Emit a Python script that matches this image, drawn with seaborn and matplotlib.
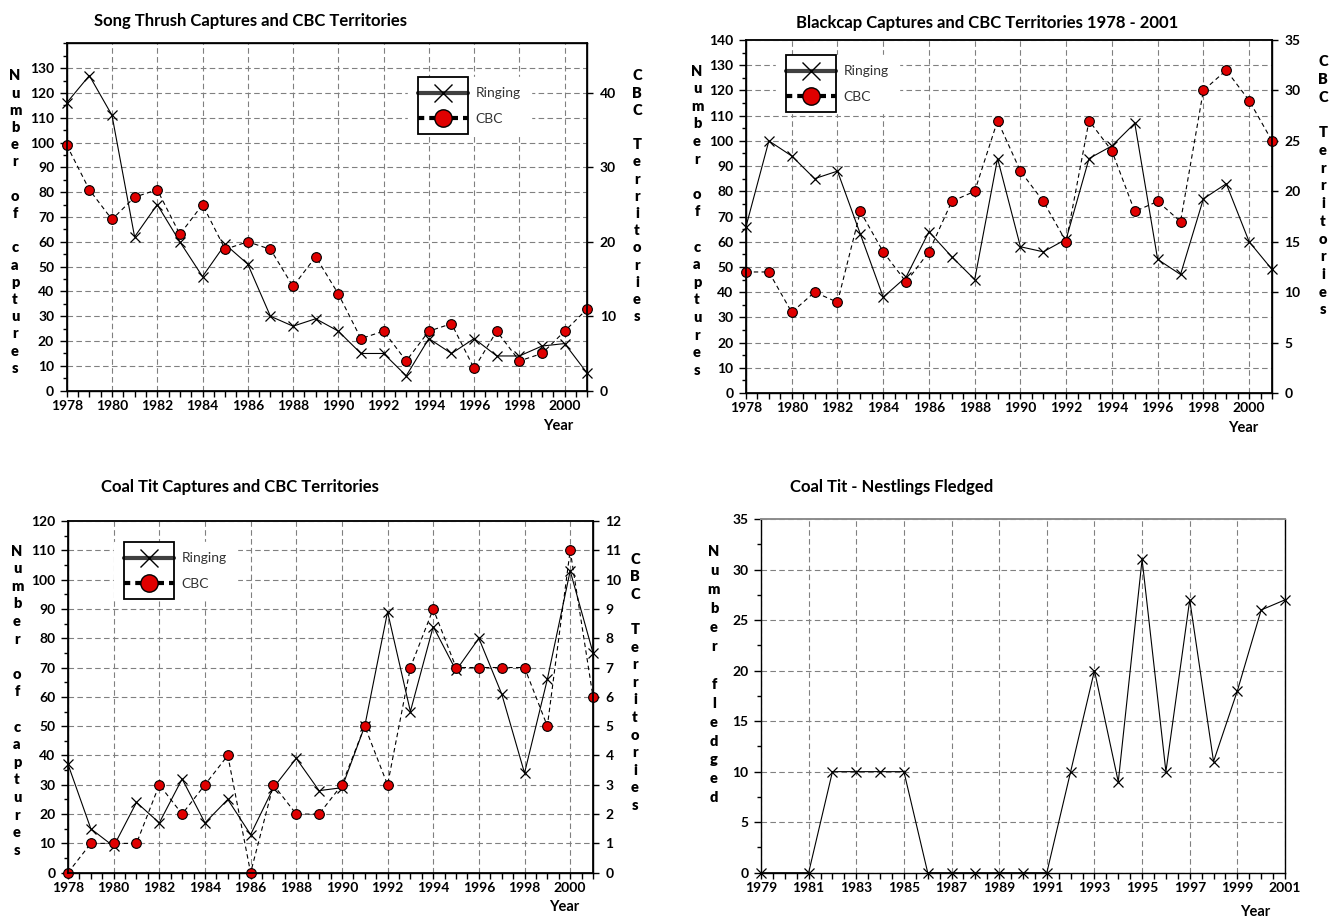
import matplotlib
matplotlib.use("Agg")
import matplotlib.pyplot as plt
import seaborn as sns
import pandas as pd
from matplotlib.ticker import FixedLocator, MultipleLocator
from matplotlib.lines import Line2D
from matplotlib.patches import Rectangle

# ---------------- data ----------------
years = list(range(1978, 2002))

thrush_ringing = [116, 127, 111, 62, 75, 60, 46, 59, 51, 30, 26, 29, 24, 15, 15, 6,
                  21, 15, 21, 14, 14, 18, 19, 7]
thrush_cbc = [33, 27, 23, 26, 27, 21, 25, 19, 20, 19, 14, 18, 13, 7, 8, 4,
              8, 9, 3, 8, 4, 5, 8, 11]

blackcap_ringing = [66, 100, 94, 85, 88, 63, 38, 46, 64, 54, 45, 93, 58, 56, 61, 93,
                    98, 107, 53, 47, 77, 83, 60, 49]
blackcap_cbc = [12, 12, 8, 10, 9, 18, 14, 11, 14, 19, 20, 27, 22, 19, 15, 27,
                24, 18, 19, 17, 30, 32, 29, 25]

coaltit_ringing = [37, 15, 9, 24, 17, 32, 17, 25, 13, 29, 39, 28, 29, 50, 89, 55,
                   84, 69, 80, 61, 34, 66, 103, 75]
coaltit_cbc = [0, 1, 1, 1, 3, 2, 3, 4, 0, 3, 2, 2, 3, 5, 3, 7,
               9, 7, 7, 7, 7, 5, 11, 6]

nest_years = [1979, 1981, 1982, 1983, 1984, 1985, 1986, 1987, 1988, 1989, 1990,
              1991, 1992, 1993, 1994, 1995, 1996, 1997, 1998, 1999, 2000, 2001]
nest_fledged = [0, 0, 10, 10, 10, 10, 0, 0, 0, 0, 0,
                0, 10, 20, 9, 31, 10, 27, 11, 18, 26, 27]

titles = ["Song Thrush Captures and CBC Territories",
          "Blackcap Captures and CBC Territories 1978 - 2001",
          "Coal Tit Captures and CBC Territories",
          "Coal Tit - Nestlings Fledged"]
series_labels = ["Ringing", "CBC"]

# ---------------- style ----------------
sns.set_theme(style="ticks")
plt.rcParams["font.family"] = ["Lato", "DejaVu Sans"]
plt.rcParams["font.weight"] = "bold"
plt.rcParams["axes.edgecolor"] = "black"
plt.rcParams["xtick.color"] = "black"
plt.rcParams["ytick.color"] = "black"
plt.rcParams["text.color"] = "black"

RED = "#e00000"
GRID = "#808080"
TICK_SIZE = 10
W, H = 1336, 917
fig = plt.figure(figsize=(W / 100, H / 100), dpi=100)


def px_axes(x0, y0, x1, y1):
    return fig.add_axes([x0 / W, 1 - y1 / H, (x1 - x0) / W, (y1 - y0) / H])


def vlabel(x, y0, step, text, size=10.5):
    for i, ch in enumerate(text):
        if ch != " ":
            fig.text(x / W, 1 - (y0 + i * step) / H, ch, ha="center",
                     va="center_baseline", fontsize=size, fontweight="heavy")


def ftext(x, y, s, size=10.5, ha="center"):
    fig.text(x / W, 1 - y / H, s, ha=ha, va="center", fontsize=size, fontweight="bold")


def style_axis(ax, ylim, yticks, yminor, xlim, xticks, top_gray=True):
    ax.set_xlim(*xlim)
    ax.set_ylim(*ylim)
    ax.xaxis.set_major_locator(FixedLocator(xticks))
    ax.xaxis.set_minor_locator(MultipleLocator(0.5))
    ax.yaxis.set_major_locator(FixedLocator(yticks))
    ax.yaxis.set_minor_locator(MultipleLocator(yminor))
    ax.grid(True, which="major", color=GRID, linestyle=(0, (5, 3)), linewidth=0.8)
    ax.tick_params(axis="x", which="both", direction="out", length=4, width=1,
                   labelsize=TICK_SIZE, pad=2.5, bottom=True, top=False)
    ax.tick_params(axis="y", which="major", direction="out", length=5, width=1,
                   labelsize=TICK_SIZE, pad=4, left=True, right=False)
    ax.tick_params(axis="y", which="minor", direction="out", length=3, width=1,
                   left=True, right=False)
    for s in ["left", "bottom", "right"]:
        ax.spines[s].set_color("black")
        ax.spines[s].set_linewidth(1.0)
        ax.spines[s].set_visible(True)
    ax.spines["top"].set_visible(True)
    ax.spines["top"].set_color("#8c8c8c" if top_gray else "black")
    ax.spines["top"].set_linewidth(1.4 if top_gray else 1.0)
    ax.set_xlabel("")
    ax.set_ylabel("")
    for ln in ax.get_lines():
        ln.set_clip_on(False)


def style_right(ax2, ylim, yticks):
    ax2.set_ylim(*ylim)
    ax2.yaxis.set_major_locator(FixedLocator(yticks))
    ax2.tick_params(axis="y", which="major", direction="out", length=4, width=1,
                    labelsize=TICK_SIZE, pad=5, right=True, left=False)
    ax2.tick_params(axis="y", which="minor", right=False, left=False)
    ax2.grid(False)
    ax2.set_ylabel("")
    ax2.set_xlabel("")
    for ln in ax2.get_lines():
        ln.set_clip_on(False)


def plot_pair(ax, ringing, cbc):
    df = pd.DataFrame({"year": years, "ringing": ringing, "cbc": cbc})
    sns.lineplot(data=df, x="year", y="ringing", ax=ax, color="black", linewidth=0.8,
                 marker="x", markersize=7.5, markeredgecolor="black",
                 markeredgewidth=0.9, label=series_labels[0])
    ax2 = ax.twinx()
    sns.lineplot(data=df, x="year", y="cbc", ax=ax2, color="black", linewidth=0.8,
                 linestyle=(0, (4, 3)), marker="o", markersize=7,
                 markerfacecolor=RED, markeredgecolor="black",
                 markeredgewidth=0.8, label=series_labels[1])
    for a in (ax, ax2):
        if a.get_legend() is not None:
            a.get_legend().remove()
    return ax2


legends = []


def make_legend(ax2, x0, y0):
    h1 = Line2D([], [], color="#404040", lw=3, marker="x", markersize=13,
                markeredgecolor="black", markeredgewidth=1)
    h2 = Line2D([], [], color="black", lw=3, linestyle=(0, (1.5, 1.2)), marker="o",
                markersize=12.5, markerfacecolor=RED, markeredgecolor="black",
                markeredgewidth=1)
    leg = ax2.legend([h1, h2], series_labels, loc="upper left",
                     bbox_to_anchor=(x0 / W, 1 - y0 / H), bbox_transform=fig.transFigure,
                     frameon=True, fancybox=False, facecolor="white", edgecolor="white",
                     framealpha=1, borderpad=0.75, borderaxespad=0, handlelength=3.6,
                     handletextpad=0.5, labelspacing=0.95,
                     prop={"size": 10, "weight": "normal"}, labelcolor="#333333")
    leg.set_zorder(10)
    legends.append(leg)


# ---------------- panel 1: Song Thrush ----------------
ax1 = px_axes(66.7, 43.3, 587.3, 390.7)
ax1b = plot_pair(ax1, thrush_ringing, thrush_cbc)
style_axis(ax1, (0, 140), list(range(0, 131, 10)), 5, (1978, 2001),
           list(range(1978, 2001, 2)), top_gray=False)
style_right(ax1b, (0, 140 / 3), [0, 10, 20, 30, 40])
make_legend(ax1b, 408, 77)
ftext(251, 21, titles[0], size=12)
vlabel(15, 75, 17.2, "Number of captures")
vlabel(637, 75, 17.2, "CBC Territories")
ftext(558, 426, "Year")

# ---------------- panel 2: Blackcap ----------------
ax2 = px_axes(746, 40, 1272, 393)
ax2b = plot_pair(ax2, blackcap_ringing, blackcap_cbc)
style_axis(ax2, (0, 140), list(range(0, 141, 10)), 5, (1978, 2001),
           list(range(1978, 2001, 2)))
style_right(ax2b, (0, 35), list(range(0, 36, 5)))
make_legend(ax2b, 776, 55)
ftext(987, 23, titles[1], size=12)
vlabel(697, 70, 17.6, "Number of captures")
vlabel(1323, 61, 17.7, "CBC Territories")
ftext(1243, 428, "Year")

# ---------------- panel 3: Coal Tit ----------------
ax3 = px_axes(68, 521, 593, 872.7)
ax3b = plot_pair(ax3, coaltit_ringing, coaltit_cbc)
style_axis(ax3, (0, 120), list(range(0, 121, 10)), 5, (1978, 2001),
           list(range(1978, 2001, 2)))
style_right(ax3b, (0, 12), list(range(0, 13, 1)))
make_legend(ax3b, 114, 542)
ftext(240, 487, titles[2], size=12)
vlabel(17, 550, 17.6, "Number of captures")
vlabel(635, 558, 17.6, "CBC Territories")
ftext(564, 907, "Year")

# ---------------- panel 4: Nestlings ----------------
ax4 = px_axes(761, 519, 1285, 872.7)
dfn = pd.DataFrame({"year": nest_years, "fledged": nest_fledged})
sns.lineplot(data=dfn, x="year", y="fledged", ax=ax4, color="black", linewidth=0.8,
             marker="x", markersize=7.5, markeredgecolor="black", markeredgewidth=0.9)
style_axis(ax4, (0, 35), list(range(0, 36, 5)), 2.5, (1979, 2001),
           list(range(1979, 2002, 2)))
ftext(892, 487, titles[3], size=12)
vlabel(714, 551, 18.9, "Number fledged")
ftext(1255, 912, "Year")

# ---------------- legend boxes around handles ----------------
fig.canvas.draw()
for leg in legends:
    xs, ys = [], []
    for h in leg.legend_handles:
        pts = h.get_transform().transform(h.get_xydata())
        xs.extend(pts[:, 0])
        ys.append(pts[:, 1].mean())
    bx0, bx1 = min(xs), max(xs)
    by1, by0 = max(ys) + 16, min(ys) - 16
    fig.add_artist(Rectangle((bx0 / W, by0 / H), (bx1 - bx0) / W, (by1 - by0) / H,
                             transform=fig.transFigure, fill=False,
                             edgecolor="black", linewidth=1.3, zorder=20))

fig.savefig("out.png", dpi=100)
